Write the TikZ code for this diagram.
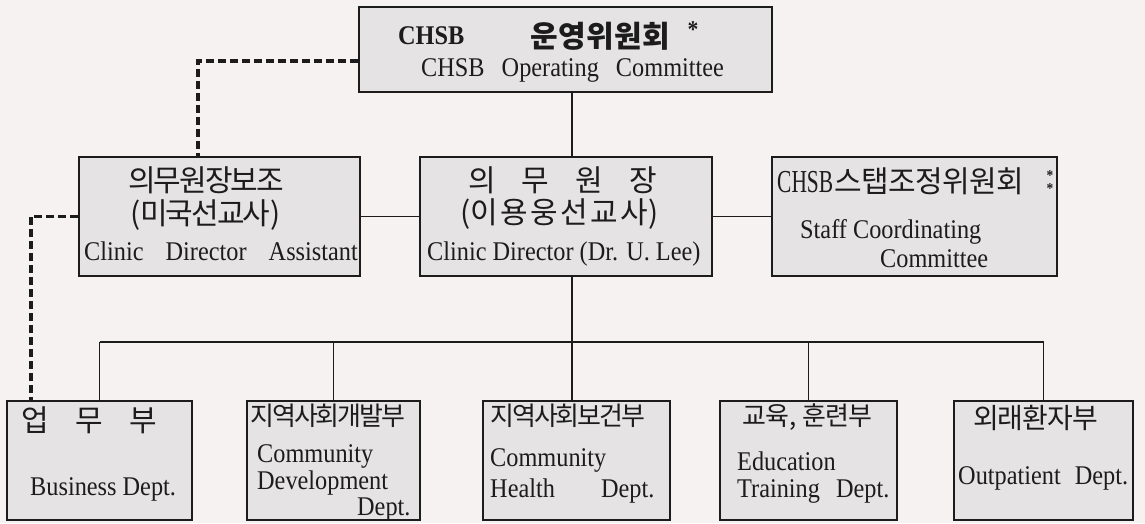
\documentclass[tikz,border=0pt]{standalone}
\usepackage{fontspec}
\setmainfont{Liberation Serif}[FakeStretch=0.9]
\newfontfamily\narrow{Liberation Serif}[FakeStretch=0.67]
\newfontfamily\kr{Noto Sans CJK KR}
% letter-spaced Hangul: \trk{gap}{characters}
\makeatletter
\newcommand\trk[2]{{\def\trk@sep{}\@tfor\trk@c:=#2\do{\trk@sep\trk@c\def\trk@sep{\kern#1}}}}
\makeatother
\definecolor{paper}{RGB}{247,242,242}
\definecolor{boxfill}{RGB}{229,227,227}
\definecolor{ink}{RGB}{28,28,28}
\begin{document}
\begin{tikzpicture}[x=1pt,y=-1pt,
  box/.style={draw=ink,fill=boxfill,line width=1.8pt,inner sep=0pt},
  link/.style={draw=ink,line width=1.2pt},
  dashlink/.style={draw=ink,line width=3.2pt,dash pattern=on 8pt off 4pt},
  en/.style={inner sep=0pt,anchor=base west,text=ink,font=\fontsize{27pt}{32pt}\selectfont},
  ko/.style={inner sep=0pt,anchor=west,text=ink,font=\kr\fontsize{30pt}{36pt}\selectfont},
  kosm/.style={inner sep=0pt,anchor=west,text=ink,font=\kr\fontsize{26pt}{32pt}\selectfont},
  star/.style={inner sep=0pt,text=ink,font=\bfseries\fontsize{15pt}{13pt}\selectfont}]
\fill[paper] (0,0) rectangle (1145,523);
\useasboundingbox (0,0) rectangle (1145,523);

% helper coordinates for connector routing
\coordinate (spine) at (572,0);
\coordinate (bus) at (0,342);
\coordinate (d1) at (198,61);
\coordinate (d2) at (31,0);

% boxes
\node[box,minimum width=413pt,minimum height=85pt]  (top)   at (565.5,49.5) {};
\node[box,minimum width=281pt,minimum height=119pt] (asst)  at (219.5,216.5) {};
\node[box,minimum width=292pt,minimum height=119pt] (dir)   at (566,216.5) {};
\node[box,minimum width=285pt,minimum height=119pt] (staff) at (914.5,216.5) {};
\node[box,minimum width=185pt,minimum height=119pt] (b1) at (99.5,460.5) {};
\node[box,minimum width=173pt,minimum height=119pt] (b2) at (333.5,460.5) {};
\node[box,minimum width=187pt,minimum height=119pt] (b3) at (576.5,460.5) {};
\node[box,minimum width=177pt,minimum height=119pt] (b4) at (808.5,460.5) {};
\node[box,minimum width=179pt,minimum height=119pt] (b5) at (1043.5,460.5) {};

% solid connectors
\draw[link] (top.south -| spine) -- (dir.north -| spine);
\draw[link] (asst.east) -- (dir.west);
\draw[link] (dir.east) -- (staff.west);
\draw[link] (dir.south -| spine) -- (b3.north -| spine);
\draw[link] (b1.north |- bus) -- (b5.north |- bus);
\draw[link] (b1.north |- bus) -- (b1.north);
\draw[link] (b2.north |- bus) -- (b2.north);
\draw[link] (b4.north |- bus) -- (b4.north);
\draw[link] (b5.north |- bus) -- (b5.north);

% dashed advisory links
\draw[dashlink] (top.west |- d1) -| (asst.north -| d1);
\draw[dashlink] (asst.west) -| (b1.north -| d2);

% operating committee
\node[en,font=\bfseries\fontsize{27pt}{32pt}\selectfont] (t1) at (398,44) {CHSB};
\node[ko,font=\kr\bfseries\fontsize{30pt}{36pt}\selectfont] (t2) at (530,36) {\trk{0.5pt}{운영위원회}};
\node[star,font=\bfseries\fontsize{24pt}{24pt}\selectfont] (t3) at (693,30) {*};
\node[en] (t4) at (421,76) {CHSB\hspace{11pt} Operating\hspace{11pt} Committee};

% clinic director assistant
\node[ko] (t5) at (128,180) {\trk{-2pt}{의무원장보조}};
\node[ko] (t6) at (130,215) {(\trk{-2pt}{미국선교사})};
\node[en] (t7) at (84,260) {Clinic\hspace{16pt} Director\hspace{16pt} Assistant};

% clinic director
\node[ko] (t8) at (468,180) {\trk{26pt}{의무원장}};
\node[ko] (t9) at (460,214) {(\trk{2.5pt}{이용웅선교사})};
\node[en] (t10) at (427,260) {Clinic Director (Dr. U. Lee)};

% staff coordinating committee
\node[en,font=\narrow\fontsize{32pt}{36pt}\selectfont] (t11) at (777,192) {CHSB};
\node[ko] (t12) at (834,181) {\trk{-0.5pt}{스탭조정위원회}};
\node[star,align=center] (t13) at (1050,182) {*\\*};
\node[en] (t14) at (800,238) {Staff Coordinating};
\node[en] (t15) at (880,267) {Committee};

% departments
\node[ko] (t16) at (21,420) {\trk{26.5pt}{업무부}};
\node[en] (t17) at (30,495) {Business Dept.};

\node[kosm] (t18) at (250,416) {\trk{-2pt}{지역사회개발부}};
\node[en] (t19) at (257,462) {Community};
\node[en] (t20) at (257,489) {Development};
\node[en] (t21) at (357,515) {Dept.};

\node[kosm] (t22) at (490,416) {\trk{-2pt}{지역사회보건부}};
\node[en] (t23) at (490,466) {Community};
\node[en] (t24) at (490,497) {Health\hspace{40pt} Dept.};

\node[kosm] (t25) at (742,417) {\trk{-1pt}{교육},\kern6pt \trk{-1pt}{훈련부}};
\node[en] (t26) at (737,470) {Education};
\node[en] (t27) at (737,497) {Training\hspace{10pt} Dept.};

\node[ko,font=\kr\fontsize{28pt}{34pt}\selectfont] (t28) at (973,418) {\trk{-1pt}{외래환자부}};
\node[en] (t29) at (958,484) {Outpatient\hspace{8pt} Dept.};
\end{tikzpicture}
\end{document}
